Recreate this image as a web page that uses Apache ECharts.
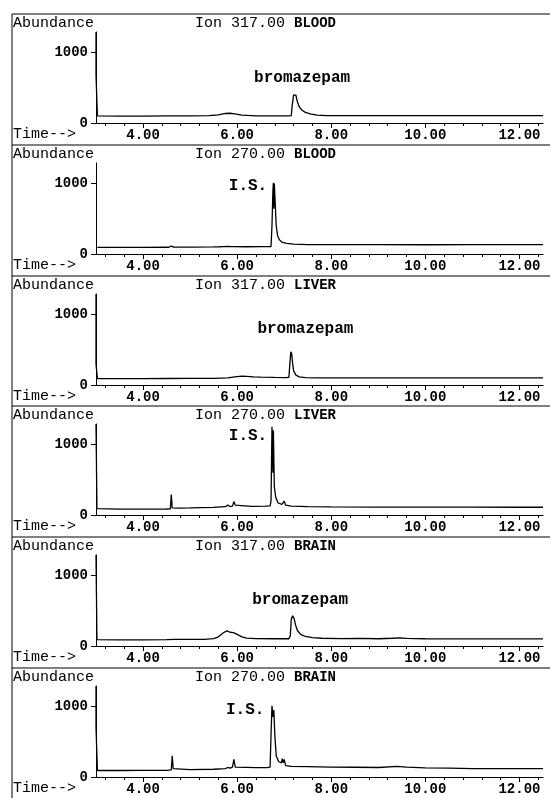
<!DOCTYPE html>
<html>
<head>
<meta charset="utf-8">
<script src="https://cdn.jsdelivr.net/npm/echarts@6/dist/echarts.min.js"></script>
<style>
  html, body { margin: 0; padding: 0; background: #fff; }
  #main { width: 550px; height: 798px; }
</style>
</head>
<body>
<div id="main"></div>
<script>
// panel headings
var ions = ['317.00', '270.00', '317.00', '270.00', '317.00', '270.00']
var tissues = ['BLOOD', 'BLOOD', 'LIVER', 'LIVER', 'BRAIN', 'BRAIN']

// tick labels
var xTickValues = [4, 6, 8, 10, 12]
var yTickValues = [0, 1000]

// chromatograms, [time (min), abundance]
var blood317 = [[3.0, 1290], [3.0, 680], [3.03, 100], [3.5, 98], [4.0, 98], [4.5, 100], [5.0, 100], [5.4, 105], [5.6, 115], [5.75, 135], [5.85, 138], [5.95, 128], [6.1, 112], [6.4, 102], [6.8, 100], [7.1, 100], [7.15, 105], [7.17, 250], [7.2, 400], [7.22, 425], [7.25, 390], [7.28, 300], [7.32, 230], [7.38, 180], [7.45, 150], [7.55, 128], [7.7, 112], [7.9, 105], [8.5, 104], [9.5, 104], [10.5, 104], [11.5, 105], [12.5, 105]]
var blood270 = [[3.03, 95], [4.0, 95], [4.55, 96], [4.6, 112], [4.65, 97], [5.0, 98], [5.5, 100], [5.63, 103], [5.66, 125], [5.7, 105], [5.8, 108], [5.88, 104], [5.91, 125], [5.94, 105], [6.2, 103], [6.5, 104], [6.72, 105], [6.74, 400], [6.76, 900], [6.77, 1010], [6.78, 640], [6.79, 1000], [6.81, 700], [6.83, 400], [6.86, 260], [6.9, 200], [6.95, 170], [7.05, 150], [7.2, 140], [7.5, 133], [8.0, 132], [9.0, 132], [10.0, 131], [11.0, 132], [12.0, 133], [12.5, 133]]
var liver317 = [[3.0, 1290], [3.0, 300], [3.03, 90], [3.5, 90], [4.0, 90], [4.5, 92], [5.0, 93], [5.5, 95], [5.8, 100], [5.95, 115], [6.1, 125], [6.2, 123], [6.35, 115], [6.5, 112], [6.8, 108], [7.05, 105], [7.1, 110], [7.12, 300], [7.14, 470], [7.16, 440], [7.18, 300], [7.2, 200], [7.25, 140], [7.32, 115], [7.45, 105], [7.7, 100], [8.5, 100], [9.5, 100], [10.5, 100], [11.5, 100], [12.5, 100]]
var liver270 = [[3.0, 1290], [3.02, 90], [3.5, 82], [4.0, 83], [4.5, 85], [4.58, 86], [4.6, 290], [4.62, 100], [4.65, 88], [4.8, 98], [5.0, 100], [5.5, 108], [5.75, 118], [5.8, 140], [5.85, 120], [5.9, 125], [5.93, 190], [5.96, 140], [6.0, 125], [6.3, 122], [6.6, 125], [6.7, 130], [6.72, 200], [6.74, 1250], [6.76, 600], [6.77, 1200], [6.79, 400], [6.82, 250], [6.87, 170], [6.95, 150], [7.0, 195], [7.03, 140], [7.15, 125], [7.5, 120], [8.0, 115], [9.0, 113], [10.0, 112], [11.0, 111], [12.0, 110], [12.5, 110]]
var brain317 = [[3.0, 1290], [3.02, 90], [3.5, 88], [4.0, 88], [4.5, 90], [4.7, 95], [5.0, 93], [5.3, 95], [5.5, 105], [5.6, 130], [5.7, 185], [5.78, 215], [5.85, 195], [5.92, 190], [6.0, 165], [6.1, 130], [6.2, 112], [6.4, 105], [6.8, 103], [7.1, 103], [7.13, 150], [7.15, 380], [7.18, 430], [7.21, 390], [7.24, 300], [7.28, 220], [7.35, 165], [7.45, 135], [7.6, 118], [7.8, 110], [8.2, 105], [8.6, 108], [9.0, 103], [9.3, 110], [9.45, 115], [9.6, 108], [10.0, 103], [11.0, 100], [12.0, 100], [12.5, 100]]
var brain270 = [[3.0, 1290], [3.0, 700], [3.03, 92], [3.5, 92], [4.0, 93], [4.5, 95], [4.6, 100], [4.62, 300], [4.64, 120], [4.68, 100], [5.0, 105], [5.5, 110], [5.75, 120], [5.8, 135], [5.85, 125], [5.9, 140], [5.93, 250], [5.96, 140], [6.0, 130], [6.4, 132], [6.65, 135], [6.7, 140], [6.72, 600], [6.74, 1010], [6.76, 850], [6.78, 950], [6.8, 600], [6.83, 300], [6.88, 220], [6.94, 200], [6.96, 260], [6.98, 200], [7.0, 250], [7.03, 160], [7.15, 150], [7.5, 148], [8.0, 140], [8.5, 138], [9.0, 135], [9.4, 150], [9.6, 140], [10.0, 130], [10.5, 125], [11.0, 120], [11.5, 118], [12.0, 118], [12.5, 118]]
var traces = [blood317, blood270, liver317, liver270, brain317, brain270]

// peak annotations [time, abundance, text]
var peakLabels = [[7.38, 640, 'bromazepam'], [6.23, 965, 'I.S.'], [7.45, 790, 'bromazepam'], [6.23, 1120, 'I.S.'], [7.34, 650, 'bromazepam'], [6.17, 950, 'I.S.']]

var xMin = 3.0, xMax = 12.5, yMax = 1290
var mono = '"Liberation Mono", "DejaVu Sans Mono", monospace'

// minor x ticks every 0.4 min
var xMinorTicks = []
for (var t = 3.2; t < 12.45; t += 0.4) {
  var v = Math.round(t * 10) / 10
  if (xTickValues.indexOf(v) < 0) xMinorTicks.push(v)
}

var chart = echarts.init(document.getElementById('main'), null, { renderer: 'canvas' })

var grids = [], xAxes = [], yAxes = [], series = [], graphics = []
graphics.push({ type: 'line', shape: { x1: 12, y1: 14, x2: 12, y2: 798 }, style: { stroke: '#000', lineWidth: 1 } })

for (let i = 0; i < 6; i++) {
  let top = Math.round(32 + i * 130.8)
  let frameTop = top - 18
  grids.push({ left: 96, right: 7, top: top, height: 91 })
  // major ticks + labels
  xAxes.push({
    type: 'value', gridIndex: i, min: xMin, max: xMax,
    axisLine: { lineStyle: { color: '#000', width: 1 } },
    splitLine: { show: false },
    axisTick: { customValues: xTickValues, length: 5, lineStyle: { color: '#000' } },
    axisLabel: {
      customValues: xTickValues, margin: 5, color: '#000', fontFamily: mono, fontSize: 14, fontWeight: 'bold',
      formatter: function (val) { return val.toFixed(2) }
    }
  })
  // minor ticks
  xAxes.push({
    type: 'value', gridIndex: i, min: xMin, max: xMax, position: 'bottom',
    axisLine: { show: false },
    splitLine: { show: false },
    axisTick: { customValues: xMinorTicks, length: 3, lineStyle: { color: '#000' } },
    axisLabel: { show: false }
  })
  yAxes.push({
    type: 'value', gridIndex: i, min: 0, max: yMax,
    axisLine: { show: true, lineStyle: { color: '#000', width: 1 } },
    splitLine: { show: false },
    axisTick: { show: true, customValues: yTickValues, length: 5, lineStyle: { color: '#000' } },
    axisLabel: {
      customValues: yTickValues, margin: 8, color: '#000', fontFamily: mono, fontSize: 14, fontWeight: 'bold',
      formatter: function (val) { return String(val) }
    }
  })
  series.push({
    type: 'line', xAxisIndex: i * 2, yAxisIndex: i,
    data: traces[i], showSymbol: false, silent: true,
    lineStyle: { color: '#000', width: 1.3 },
    markPoint: {
      symbol: 'rect', symbolSize: 0, silent: true,
      label: { show: true, position: 'inside', color: '#000', fontFamily: mono, fontSize: 16, fontWeight: 'bold', formatter: '{b}' },
      data: [{ name: peakLabels[i][2], coord: [peakLabels[i][0], peakLabels[i][1]] }]
    }
  })
  // frame and texts
  graphics.push({ type: 'line', shape: { x1: 12, y1: frameTop, x2: 550, y2: frameTop }, style: { stroke: '#000', lineWidth: 1 } })
  graphics.push({ type: 'text', left: 13, top: frameTop + 2, style: { text: 'Abundance', fill: '#000', font: '15px ' + mono } })
  graphics.push({
    type: 'text', left: 195, top: frameTop + 2,
    style: {
      text: '{a|Ion ' + ions[i] + ' }{b|' + tissues[i] + '}',
      rich: {
        a: { fill: '#000', fontFamily: mono, fontSize: 15 },
        b: { fill: '#000', fontFamily: mono, fontSize: 14, fontWeight: 'bold' }
      }
    }
  })
  graphics.push({ type: 'text', left: 13, top: top + 95, style: { text: 'Time-->', fill: '#000', font: '15px ' + mono } })
}

chart.setOption({
  backgroundColor: '#fff',
  animation: false,
  grid: grids,
  xAxis: xAxes,
  yAxis: yAxes,
  series: series,
  graphic: graphics
})
</script>
</body>
</html>
